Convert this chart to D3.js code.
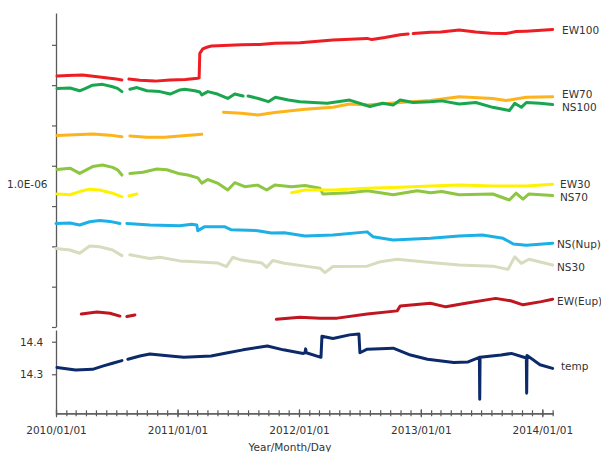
<!DOCTYPE html>
<html><head><meta charset="utf-8">
<script src="https://cdn.jsdelivr.net/npm/d3@7"></script>
<style>
body{margin:0;background:#fff}
svg{display:block}
text{font-family:"DejaVu Sans",Verdana,sans-serif;font-size:10.5px;fill:#333}
</style>
</head><body>
<svg id="chart" width="601" height="452"></svg>
<script>
// ---------------- DATA ----------------
const xTickDates = ["2010-01-01","2011-01-01","2012-01-01","2013-01-01","2014-01-01"];
const upperTicks = [0,1,2,3,4,5,6,7];
const upperTickLabel = {value: 3.55, label: "1.0E-06"};
const tempTicks = [14.3, 14.4];

const EW100 = [["2010-01-04",6.23],["2010-02-05",6.24],["2010-03-22",6.25],["2010-05-12",6.20],["2010-07-01",6.15],["2010-07-18",6.13],null,
  ["2010-08-08",6.15],["2010-09-10",6.12],["2010-10-25",6.10],["2010-12-10",6.13],["2011-01-25",6.14],["2011-03-03",6.17],["2011-03-07",6.18],
  ["2011-03-09",6.79],["2011-03-18",6.90],["2011-03-30",6.94],["2011-04-13",6.97],["2011-07-12",7.00],["2011-09-05",7.01],["2011-10-20",7.04],
  ["2012-01-04",7.05],["2012-04-12",7.12],["2012-07-24",7.16],["2012-08-07",7.13],["2012-09-15",7.18],["2012-10-31",7.25],["2012-11-24",7.27],null,
  ["2012-12-09",7.28],["2013-01-30",7.31],["2013-03-02",7.32],["2013-04-26",7.37],["2013-06-15",7.32],["2013-07-30",7.29],["2013-09-14",7.28],
  ["2013-10-14",7.33],["2013-11-14",7.34],["2013-12-29",7.36],["2014-02-01",7.38]];

const NS100 = [["2010-01-04",5.92],["2010-02-12",5.93],["2010-03-13",5.86],["2010-03-31",5.92],["2010-04-21",6.00],["2010-05-21",6.02],["2010-06-20",5.96],["2010-07-05",5.92],["2010-07-18",5.84],null,
  ["2010-08-11",5.90],["2010-09-01",5.94],["2010-10-01",5.86],["2010-11-09",5.84],["2010-12-10",5.78],["2011-01-08",5.88],["2011-01-23",5.90],["2011-02-22",5.86],["2011-03-09",5.83],["2011-03-15",5.76],["2011-04-02",5.84],["2011-05-01",5.78],["2011-06-01",5.67],["2011-06-22",5.78],["2011-07-17",5.73],null,
  ["2011-08-01",5.73],["2011-09-01",5.67],["2011-10-01",5.59],["2011-10-22",5.70],["2011-11-30",5.63],["2012-01-04",5.59],["2012-03-26",5.55],["2012-06-01",5.63],["2012-08-01",5.47],["2012-09-08",5.55],["2012-10-10",5.51],["2012-10-31",5.63],["2012-12-09",5.57],
  ["2013-01-30",5.59],["2013-03-05",5.61],["2013-04-26",5.53],["2013-06-15",5.57],["2013-08-05",5.45],["2013-09-24",5.37],["2013-10-10",5.55],["2013-10-30",5.45],["2013-11-14",5.57],["2013-12-24",5.55],["2014-02-01",5.52]];

const EW70 = [["2010-01-04",4.75],["2010-04-21",4.79],["2010-06-12",4.76],["2010-07-18",4.72],null,
  ["2010-08-11",4.74],["2010-10-01",4.71],["2010-11-24",4.71],["2011-01-08",4.74],["2011-03-15",4.78],null,
  ["2011-05-19",5.33],["2011-07-12",5.30],["2011-08-30",5.26],["2011-10-20",5.32],["2012-01-19",5.40],["2012-04-12",5.45],["2012-06-01",5.53],["2012-07-24",5.51],["2012-10-31",5.57],
  ["2013-01-30",5.62],["2013-04-26",5.71],["2013-08-05",5.67],["2013-09-14",5.62],["2013-11-14",5.70],["2014-02-01",5.71]];

const NS70 = [["2010-01-04",3.91],["2010-02-12",3.94],["2010-03-13",3.81],["2010-04-21",3.98],["2010-05-21",4.02],["2010-06-20",3.96],["2010-07-05",3.90],["2010-07-18",3.77],null,
  ["2010-08-11",3.81],["2010-09-19",3.84],["2010-10-31",3.92],["2010-11-30",3.90],["2011-01-08",3.80],["2011-02-01",3.77],["2011-03-03",3.70],["2011-03-15",3.57],["2011-04-02",3.66],["2011-05-01",3.57],["2011-06-01",3.40],["2011-06-22",3.58],["2011-07-22",3.48],["2011-08-30",3.52],["2011-09-26",3.40],["2011-10-20",3.52],["2011-12-10",3.48],
  ["2012-01-19",3.51],["2012-03-04",3.44],["2012-03-13",3.30],["2012-06-01",3.33],["2012-07-24",3.38],["2012-10-10",3.28],["2012-12-21",3.38],["2013-01-30",3.33],["2013-03-05",3.36],["2013-04-26",3.28],["2013-08-05",3.30],["2013-09-24",3.15],["2013-10-14",3.32],["2013-11-04",3.17],["2013-11-22",3.30],["2014-02-01",3.26]];

const EW30 = [["2010-01-04",3.30],["2010-02-12",3.28],["2010-03-13",3.36],["2010-04-12",3.42],["2010-05-12",3.40],["2010-06-20",3.32],["2010-07-18",3.23],null,
  ["2010-08-08",3.25],["2010-09-01",3.30],null,
  ["2011-12-10",3.33],["2012-01-19",3.40],["2012-04-12",3.40],["2012-07-24",3.44],["2012-10-31",3.47],["2013-01-30",3.50],["2013-04-26",3.52],["2013-08-05",3.50],["2013-11-14",3.50],["2014-02-01",3.54]];

const NSNup = [["2010-01-01",2.57],["2010-02-12",2.58],["2010-03-13",2.53],["2010-04-12",2.61],["2010-05-12",2.64],["2010-06-12",2.62],["2010-07-12",2.57],null,
  ["2010-08-02",2.57],["2010-10-10",2.53],["2011-01-08",2.51],["2011-02-13",2.55],["2011-02-28",2.53],["2011-03-03",2.39],["2011-03-24",2.49],["2011-05-22",2.49],["2011-06-12",2.41],["2011-08-30",2.39],["2011-10-10",2.33],["2011-11-18",2.34],
  ["2012-01-19",2.26],["2012-04-12",2.28],["2012-07-24",2.36],["2012-08-10",2.24],["2012-10-10",2.16],["2013-01-30",2.20],["2013-04-26",2.26],["2013-07-05",2.28],["2013-09-05",2.20],["2013-10-06",2.06],["2013-11-14",2.03],["2014-02-01",2.08]];

const NS30 = [["2010-01-01",1.95],["2010-02-12",1.91],["2010-03-13",1.83],["2010-04-12",2.01],["2010-05-12",1.99],["2010-06-20",1.91],["2010-07-18",1.77],null,
  ["2010-08-11",1.79],["2010-10-10",1.70],["2010-11-09",1.73],["2011-01-08",1.64],["2011-02-22",1.62],["2011-05-01",1.59],["2011-05-28",1.50],["2011-06-16",1.73],["2011-07-12",1.66],["2011-09-11",1.59],["2011-09-26",1.48],["2011-10-14",1.65],["2011-11-18",1.58],
  ["2012-01-19",1.51],["2012-03-04",1.46],["2012-03-19",1.35],["2012-04-12",1.50],["2012-07-24",1.51],["2012-09-02",1.62],["2012-10-22",1.68],["2013-01-30",1.60],["2013-04-26",1.54],["2013-08-05",1.51],["2013-09-20",1.43],["2013-10-10",1.74],["2013-10-30",1.58],["2013-11-22",1.68],["2014-02-01",1.54]];

const EWEup = [["2010-03-18",0.32],["2010-05-04",0.37],["2010-06-12",0.34],["2010-07-12",0.27],null,
  ["2010-08-02",0.26],["2010-08-26",0.30],null,
  ["2011-10-25",0.19],["2012-01-04",0.24],["2012-03-04",0.22],["2012-04-25",0.22],["2012-07-24",0.32],["2012-10-22",0.40],["2012-10-31",0.52],["2013-01-30",0.59],["2013-03-17",0.50],["2013-05-16",0.59],["2013-08-14",0.71],["2013-09-28",0.65],["2013-11-04",0.55],["2013-12-29",0.63],["2014-02-01",0.69]];

const TEMP = [["2010-01-04",14.321],["2010-03-01",14.313],["2010-04-21",14.315],["2010-05-21",14.325],["2010-06-20",14.334],["2010-07-18",14.342],null,
  ["2010-08-05",14.346],["2010-09-10",14.356],["2010-10-10",14.362],["2010-12-10",14.356],["2011-01-20",14.352],["2011-04-12",14.356],["2011-06-01",14.366],["2011-07-17",14.375],["2011-09-28",14.387],["2011-11-15",14.375],
  ["2012-01-14",14.364],["2012-01-19",14.366],["2012-01-21",14.378],["2012-01-23",14.366],["2012-03-07",14.352],["2012-03-10",14.417],["2012-04-12",14.410],["2012-06-01",14.421],["2012-06-29",14.424],["2012-07-02",14.366],["2012-07-24",14.377],["2012-10-10",14.380],["2012-12-01",14.359],
  ["2013-01-21",14.346],["2013-04-10",14.336],["2013-05-23",14.338],["2013-06-26",14.352],["2013-06-27",14.223],["2013-06-28",14.352],["2013-08-30",14.359],["2013-09-30",14.364],["2013-11-14",14.350],["2013-11-15",14.242],["2013-11-16",14.358],["2013-12-25",14.329],["2014-02-01",14.318]];

const seriesNames = ["NS30","NS(Nup)","EW(Eup)","NS70","EW30","EW70","NS100","EW100","temp"];
const seriesData  = [NS30, NSNup, EWEup, NS70, EW30, EW70, NS100, EW100, TEMP];

// ---------------- STYLE / LAYOUT ----------------
const colors = {"EW100":"#ee1d24","NS100":"#1aa64e","EW70":"#fdb41a","NS70":"#8dc641","EW30":"#fff200",
  "NS(Nup)":"#1cb0e6","NS30":"#d7dcbf","EW(Eup)":"#bf1620","temp":"#0c2a69"};
const labelPos = {"EW100":[562,33.8],"EW70":[562,97.8],"NS100":[562,111],"EW30":[560,188],"NS70":[560,201],
  "NS(Nup)":[557,247.7],"NS30":[557,270.5],"EW(Eup)":[557,304.8],"temp":[561,369.5]};

const parse = d3.utcParse("%Y-%m-%d");
const svg = d3.select("#chart");
const axisColor = "#5a5a5a";

const x = d3.scaleUtc().domain([parse("2010-01-01"), parse("2014-02-03")]).range([56, 553.3]);
const yU = d3.scaleLinear().domain([0, 7.79]).range([327, 13]);
const yT = d3.scaleLinear().domain([14.18, 14.436]).range([413.3, 330]);

function styleAxis(g){
  g.selectAll("path.domain").attr("stroke", axisColor).attr("stroke-width", 1.3);
  g.selectAll(".tick line").attr("stroke", axisColor).attr("stroke-width", 1.2);
  g.selectAll("text").attr("fill","#333").style("font-family",'"DejaVu Sans",Verdana,sans-serif').style("font-size","10.5px");
}

// upper axis
const gU = svg.append("g").attr("transform","translate(56,0)")
  .call(d3.axisLeft(yU).tickValues(upperTicks).tickFormat("").tickSize(4).tickSizeOuter(0));
styleAxis(gU);
svg.append("text").attr("x",47.5).attr("y",yU(upperTickLabel.value)).attr("dy","0.36em")
  .attr("text-anchor","end").text(upperTickLabel.label);

// lower (temp) axis
const gT = svg.append("g").attr("transform","translate(56,0)")
  .call(d3.axisLeft(yT).tickValues(tempTicks).tickFormat(d3.format(".1f")).tickSize(4).tickSizeOuter(0).tickPadding(8.7));
styleAxis(gT);

// x axis minor (monthly)
const months = d3.utcMonth.range(parse("2010-01-01"), parse("2014-02-03"));
const gXm = svg.append("g").attr("transform","translate(0,413.3)")
  .call(d3.axisBottom(x).tickValues(months).tickFormat("").tickSize(3).tickSizeOuter(0));
styleAxis(gXm);
gXm.selectAll(".tick line").attr("y1",-3);
// x axis major
const gX = svg.append("g").attr("transform","translate(0,413.3)")
  .call(d3.axisBottom(x).tickValues(xTickDates.map(parse)).tickFormat(d3.utcFormat("%Y/%m/%d")).tickSize(4).tickSizeOuter(0).tickPadding(9.7));
styleAxis(gX);
gX.selectAll(".tick line").attr("y1",-4);

svg.append("text").attr("x",290).attr("y",450.5).attr("text-anchor","middle").text("Year/Month/Day");

// lines
seriesNames.forEach((name, i) => {
  const yS = name === "temp" ? yT : yU;
  const pts = seriesData[i].map(d => d ? {t: parse(d[0]), v: d[1]} : null);
  const line = d3.line().defined(d => d !== null).x(d => x(d.t)).y(d => yS(d.v));
  svg.append("path").datum(pts).attr("d", line).attr("fill","none")
    .attr("stroke", colors[name]).attr("stroke-width", 3)
    .attr("stroke-linejoin","round").attr("stroke-linecap","round");
  svg.append("text").attr("x", labelPos[name][0]).attr("y", labelPos[name][1]).text(name);
});
</script>
</body></html>
